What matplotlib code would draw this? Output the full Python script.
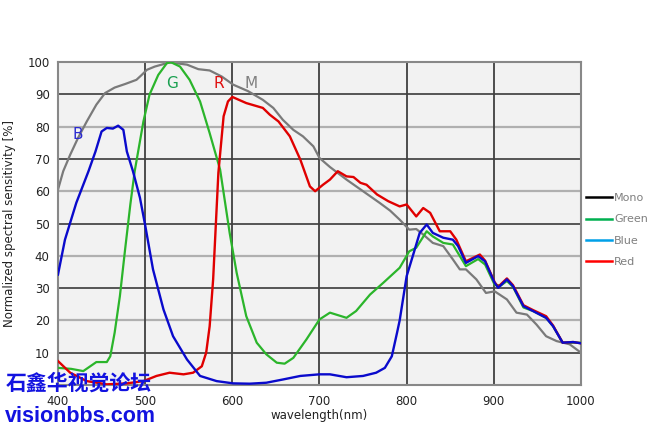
import matplotlib
matplotlib.use('Agg')
import matplotlib.pyplot as plt
from matplotlib.lines import Line2D

# mono (grey) sensitivity curve
mono_wl = [400, 406, 414, 423, 433, 444, 454, 465, 477, 490, 496, 502, 511, 528, 548, 561, 574, 588, 601, 618, 635,
           647, 658, 670, 681, 693, 700, 712, 731, 750, 769, 781, 792, 803, 811, 819, 830, 842, 853, 861, 868, 880,
           891, 901, 915, 926, 938, 949, 960, 972, 987, 1000]
mono_val = [60.5, 66.2, 71.3, 76.5, 81.6, 86.8, 90.4, 92.1, 93.2, 94.5, 96, 97.6, 98.6, 99.9, 99.2, 97.8, 97.4, 95.5,
            93, 91, 88.3, 85.8, 82.1, 79, 77, 73.9, 70.3, 67.5, 63.6, 60, 56.4, 54, 51.2, 48.1, 48.3, 46.6, 44, 43,
            38.9, 35.8, 35.8, 32.7, 28.5, 29, 26.5, 22.4, 21.8, 18.7, 15.1, 13.6, 12.6, 10]

# green channel
green_wl = [400, 415, 429, 444, 456, 460, 465, 471, 477, 483, 488, 498, 505, 515, 525, 530, 540, 551, 563, 574, 586,
            597, 605, 616, 628, 639, 651, 660, 670, 685, 700, 712, 731, 742, 758, 773, 792, 803, 811, 823, 830, 842,
            853, 868, 882, 890, 901, 908, 915, 922, 934, 945, 960, 968, 979, 991, 1000]
green_val = [5.3, 5, 4.3, 7.1, 7.1, 8.9, 16.2, 27.5, 42, 55.9, 66.2, 81.6, 89.9, 96, 99.7, 99.9, 98.6, 94.5, 87.8, 78,
             66.7, 47, 34.7, 21.3, 13.1, 9.5, 6.9, 6.6, 8.4, 14.1, 20.3, 22.4, 20.8, 22.9, 28, 31.6, 36.3, 41.4,
             42.5, 47.6, 46, 44, 43.5, 36.8, 39, 37.3, 31, 30.8, 32.2, 30.4, 24, 22.9, 20.8, 18.2, 13.1, 13.1, 13.1]

# blue channel
blue_wl = [400, 408, 421, 435, 443, 450, 456, 463, 469, 475, 479, 486, 494, 500, 509, 521, 532, 548, 563, 582, 601,
           620, 639, 658, 678, 700, 712, 731, 750, 765, 775, 783, 789, 792, 800, 807, 815, 823, 830, 842, 853, 859,
           868, 882, 890, 901, 905, 915, 922, 934, 945, 960, 968, 979, 991, 1000]
blue_val = [34.2, 45, 56.4, 66.2, 72.3, 78.5, 79.6, 79.4, 80.3, 79, 72.3, 66.2, 58, 49.5, 35.8, 23.4, 15.1, 7.9, 2.8,
            1.2, 0.5, 0.4, 0.7, 1.7, 2.8, 3.3, 3.3, 2.4, 2.8, 3.8, 5.3, 8.9, 16.2, 20, 33.7, 39.9, 47.1, 49.7, 47.1,
            45.6, 45, 43, 37.8, 39.9, 38.3, 31.6, 30.1, 32.7, 30.6, 24.4, 22.9, 20.8, 18.2, 13.1, 13.3, 12.9]

# red channel
red_wl = [400, 414, 433, 456, 479, 498, 513, 528, 544, 555, 565, 570, 574, 578, 584, 590, 595, 600, 616, 635, 643,
          653, 666, 678, 689, 695, 704, 712, 721, 731, 739, 747, 754, 766, 779, 792, 800, 811, 819, 827, 838, 850,
          857, 868, 884, 890, 901, 905, 915, 922, 934, 945, 960, 968, 979, 991, 1000]
red_val = [7.4, 3.8, 1.2, 0.2, 0.5, 1.2, 2.8, 3.8, 3.3, 3.8, 5.8, 10, 18.2, 32.7, 65.7, 83.2, 87.8, 89.2, 87.3, 85.8,
           83.7, 81.6, 77, 69.8, 61.5, 60, 62, 63.6, 66.2, 64.6, 64.4, 62.6, 62, 59, 56.9, 55.3, 55.9, 52.2, 54.8,
           53.3, 47.6, 47.6, 45, 38.3, 40.4, 38.5, 31.8, 30.4, 33, 30.9, 24.7, 23.2, 21.3, 18.4, 13.1, 13.3, 12.9]

# curve letters
letters = ['B', 'G', 'R', 'M']
letter_wl = [423, 531, 584, 621]
letter_val = [77.6, 93.4, 93.4, 93.4]

# legend entries
legend_labels = ['Mono', 'Green', 'Blue', 'Red']
legend_colors = ['#000000', '#00b050', '#00a0e8', '#ff0000']

# tick labels
x_ticks = [400, 500, 600, 700, 800, 900, 1000]
y_ticks = [10, 20, 30, 40, 50, 60, 70, 80, 90, 100]

fig = plt.figure(figsize=(6.59, 4.28), dpi=100)
ax = fig.add_axes([0.088, 0.1005, 0.7936, 0.7545])
ax.set_facecolor('#f2f2f2')

# grid lines ... odd tens darker, even tens lighter
for y in y_ticks[:-1]:
    if (y // 10) % 2 == 1:
        ax.axhline(y, color='#555555', linewidth=1.4, zorder=1)
    else:
        ax.axhline(y, color='#b0b0b0', linewidth=1.6, zorder=1)
for x in x_ticks[1:-1]:
    ax.axvline(x, color='#404040', linewidth=1.3, zorder=1)

# the curves
ax.plot(mono_wl, mono_val, color='#7a7a7a', linewidth=1.6, zorder=2)
ax.plot(green_wl, green_val, color='#2bb52b', linewidth=1.6, zorder=3)
ax.plot(red_wl, red_val, color='#e00000', linewidth=1.7, zorder=4)
ax.plot(blue_wl, blue_val, color='#0a0acc', linewidth=1.7, zorder=5)

# curve letters
letter_colors = ['#2a2ad0', '#1aa050', '#e01010', '#808080']
for letter, wl, val, color in zip(letters, letter_wl, letter_val, letter_colors):
    ax.text(wl, val, letter, color=color, fontsize=11, ha='center', va='center', zorder=6)

ax.set_xlim(400, 1000)
ax.set_ylim(0, 100)
ax.set_xticks(x_ticks)
ax.set_yticks(y_ticks)
ax.tick_params(length=0, labelsize=8.5, labelcolor='#222222', pad=6)
ax.tick_params(axis='x', pad=7)
for spine in ax.spines.values():
    spine.set_color('#888888')
    spine.set_linewidth(1.5)

ax.set_xlabel('wavelength(nm)', fontsize=8.5, color='#222222', labelpad=1)
ax.set_ylabel('Normalized spectral sensitivity [%]', fontsize=8.5, color='#222222', labelpad=8)

# legend on the right, outside the plot
handles = [Line2D([0], [0], color=c, linewidth=1.8) for c in legend_colors]
ax.legend(handles, legend_labels, loc='center left', bbox_to_anchor=(1.01, 0.48), frameon=False,
          fontsize=8, labelcolor='#7f7f7f', handlelength=2.3, handletextpad=0.2, labelspacing=1.0,
          borderaxespad=0, borderpad=0)

# watermark text (sits over the bottom-left corner, as in the source image)
fig.text(0.008, 0.106, '石鑫华视觉论坛', color='#1212e0', fontsize=15, fontweight='bold',
         family=['Noto Sans CJK SC', 'DejaVu Sans'], ha='left', va='center', zorder=10)
fig.text(0.008, 0.026, 'visionbbs.com', color='#1212e0', fontsize=15.5, fontweight='bold',
         family='Liberation Sans', ha='left', va='center', zorder=10)

fig.savefig('out.png', dpi=100)
